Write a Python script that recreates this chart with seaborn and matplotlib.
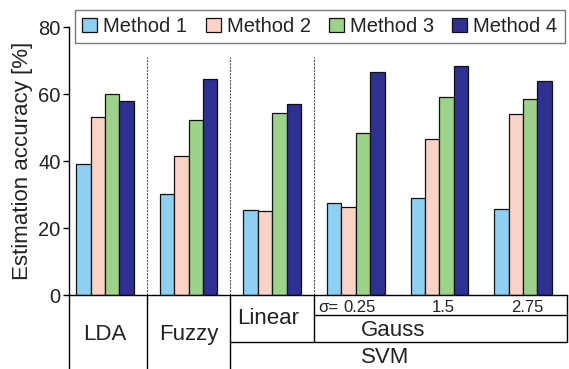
import numpy as np
import pandas as pd
import seaborn as sns
import matplotlib.pyplot as plt
import matplotlib.transforms as mtransforms

# data
groups = ["LDA", "Fuzzy", "Linear", "Gauss 0.25", "Gauss 1.5", "Gauss 2.75"]
methods = ["Method 1", "Method 2", "Method 3", "Method 4"]
method1 = [39.1, 30.1, 25.4, 27.4, 28.9, 25.6]
method2 = [53.1, 41.4, 25.1, 26.2, 46.6, 54.0]
method3 = [59.9, 52.1, 54.2, 48.5, 59.0, 58.6]
method4 = [57.9, 64.4, 57.1, 66.5, 68.5, 64.0]
colors = ["#8ecff2", "#fad3c7", "#9dd28a", "#2e3192"]
sigma_labels = ["0.25", "1.5", "2.75"]
yticks = [0, 20, 40, 60, 80]

df = pd.DataFrame({
    "group": groups * len(methods),
    "method": np.repeat(methods, len(groups)),
    "acc": method1 + method2 + method3 + method4,
})

sns.set_style("white")
plt.rcParams["font.family"] = ["Liberation Sans", "DejaVu Sans"]
txt = "#222222"

fig = plt.figure(figsize=(5.69, 3.69), dpi=100)
ax = fig.add_axes([0.1213, 0.2005, 0.8752, 0.7263])

sns.barplot(data=df, x="group", y="acc", hue="method", palette=colors,
            saturation=1, width=0.69, edgecolor="#111111", linewidth=0.9,
            errorbar=None, ax=ax)

ax.set_xlim(-0.431, 5.526)
ax.set_ylim(0, 80)
ax.set_yticks(yticks)
ax.set_xticks([])
ax.set_xlabel("")
ax.set_ylabel("Estimation accuracy [%]", fontsize=16, color=txt, labelpad=4)
ax.tick_params(axis="y", left=True, length=4, width=1, color="black",
               labelsize=14.5, labelcolor=txt, pad=2)
for s in ["top", "right"]:
    ax.spines[s].set_visible(False)
for s in ["left", "bottom"]:
    ax.spines[s].set_color("black")
    ax.spines[s].set_linewidth(1)

# legend in a single row on top
handles, labels = ax.get_legend_handles_labels()
ax.get_legend().remove()
leg = ax.legend(handles, labels, ncol=4, loc="upper right",
                bbox_to_anchor=(0.995, 1.064), borderaxespad=0,
                fontsize=14.5, handlelength=0.75, handleheight=0.7,
                handletextpad=0.3, columnspacing=0.9, borderpad=0.35,
                fancybox=False, frameon=True)
leg.get_frame().set_edgecolor("#555555")
leg.get_frame().set_linewidth(1)
for t in leg.get_texts():
    t.set_color(txt)

# dashed separators between classifiers
for xs in [0.5, 1.5, 2.5]:
    ax.axvline(xs, ymin=0, ymax=0.888, color="#555555", lw=0.8,
               ls=(0, (2, 1)))

# table under the axis
tr = mtransforms.blended_transform_factory(ax.transData, ax.transAxes)
kw = dict(color="black", lw=1, clip_on=False)
ax.plot([0, 0], [0, -0.3], transform=ax.transAxes, **kw)
ax.plot([0.5, 0.5], [0, -0.3], transform=tr, **kw)
ax.plot([1.5, 1.5], [0, -0.3], transform=tr, **kw)
ax.plot([2.5, 2.5], [0, -0.1754], transform=tr, **kw)
ax.plot([1, 1], [0, -0.1754], transform=ax.transAxes, **kw)
ax.plot([1.5, 5.526], [-0.1754, -0.1754], transform=tr, **kw)
ax.plot([2.5, 5.526], [-0.0746, -0.0746], transform=tr, **kw)

ax.text(0, -0.1455, "LDA", transform=tr, ha="center", va="center",
        fontsize=16, color=txt)
ax.text(1, -0.1455, "Fuzzy", transform=tr, ha="center", va="center",
        fontsize=16, color=txt)
ax.text(1.95, -0.0877, "Linear", transform=tr, ha="center", va="center",
        fontsize=16, color=txt)
ax.text(2.55, -0.0448, "σ=", transform=tr, ha="left", va="center",
        fontsize=12, color=txt)
for i, lab in enumerate(sigma_labels):
    ax.text(3.05 + i, -0.0448, lab, transform=tr, ha="center", va="center",
            fontsize=12, color=txt)
ax.text(3.45, -0.1306, "Gauss", transform=tr, ha="center", va="center",
        fontsize=16, color=txt)
ax.text(3.35, -0.235, "SVM", transform=tr, ha="center", va="center",
        fontsize=16, color=txt)

fig.savefig("out.png", dpi=100)
